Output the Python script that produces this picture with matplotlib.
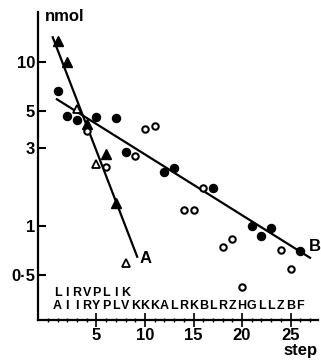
import numpy as np
import matplotlib.pyplot as plt
from matplotlib.ticker import FixedLocator, NullFormatter

# series A: triangles, series B: circles (filled / open)
a_fill_step = [1, 2, 4, 6, 7]
a_fill_nmol = [13.5, 10.0, 4.2, 2.73, 1.38]
a_open_step = [3, 5, 8]
a_open_nmol = [5.15, 2.4, 0.59]

b_fill_step = [1, 2, 3, 5, 7, 8, 12, 13, 17, 21, 22, 23, 26]
b_fill_nmol = [6.7, 4.67, 4.4, 4.6, 4.55, 2.84, 2.14, 2.24, 1.71, 1.0, 0.86, 0.97, 0.70]
b_open_step = [4, 6, 9, 10, 11, 14, 15, 16, 18, 19, 20, 24, 25]
b_open_nmol = [3.78, 2.30, 2.65, 3.88, 4.05, 1.25, 1.25, 1.71, 0.74, 0.83, 0.42, 0.71, 0.54]

# fitted lines (end points)
line_a_step = [0.5, 9.2]
line_a_nmol = [14.2, 0.646]
line_b_step = [0.93, 27.0]
line_b_nmol = [5.93, 0.637]

seq_top = "LIRVPLIK"
seq_bottom = "AIIRYPLVKKKALRKBLRZHGLLZBF"

y_ticks = [0.5, 1, 3, 5, 10]
y_labels = ["0·5", "1", "3", "5", "10"]
x_ticks = [5, 10, 15, 20, 25]

plt.rcParams['font.family'] = ['Liberation Sans', 'DejaVu Sans']
plt.rcParams['font.weight'] = 'bold'

fig = plt.figure(figsize=(3.21, 3.6), dpi=100)
ax = fig.add_axes([0.118, 0.111, 0.872, 0.856])
ax.set_yscale('log')
ax.set_xlim(-1.03, 27.8)
ax.set_ylim(0.265, 20.3)

ax.plot(line_a_step, line_a_nmol, color='black', lw=1.6)
ax.plot(line_b_step, line_b_nmol, color='black', lw=1.6)

ax.plot(a_fill_step, a_fill_nmol, '^', color='black', ms=6.5, clip_on=False)
ax.plot(a_open_step, a_open_nmol, '^', mfc='white', mec='black', mew=1.3, ms=5.5)
ax.plot(b_fill_step, b_fill_nmol, 'o', color='black', ms=5.8)
ax.plot(b_open_step, b_open_nmol, 'o', mfc='white', mec='black', mew=1.5, ms=4.6)

ax.text(9.4, 0.63, "A", fontsize=12, fontweight='bold', va='center')
ax.text(26.85, 0.75, "B", fontsize=12, fontweight='bold', va='center')

for i, ch in enumerate(seq_top):
    ax.text(i + 1, 0.39, ch, fontsize=9, fontweight='bold', ha='center', va='center')
for i, ch in enumerate(seq_bottom):
    ax.text(i + 1, 0.321, ch, fontsize=9, fontweight='bold', ha='center', va='center')

for s in ['top', 'right']:
    ax.spines[s].set_visible(False)
for s in ['left', 'bottom']:
    ax.spines[s].set_linewidth(1.6)

ax.yaxis.set_major_locator(FixedLocator(y_ticks))
ax.yaxis.set_minor_locator(FixedLocator([]))
ax.set_yticklabels(y_labels)
ax.yaxis.set_minor_formatter(NullFormatter())
ax.tick_params(axis='y', which='major', direction='in', length=6, width=1.5,
               labelsize=12, pad=2)

ax.set_xticks(x_ticks)
ax.xaxis.set_minor_locator(FixedLocator(np.arange(0, 28)))
ax.tick_params(axis='x', which='major', direction='inout', length=10, width=1.2,
               labelsize=12, pad=1)
ax.tick_params(axis='x', which='minor', direction='inout', length=3, width=1)

fig.text(0.14, 0.955, "nmol", fontsize=12, fontweight='bold', va='center')
fig.text(0.99, 0.025, "step", fontsize=12, fontweight='bold', ha='right', va='center')

fig.savefig('out.png', dpi=100)
